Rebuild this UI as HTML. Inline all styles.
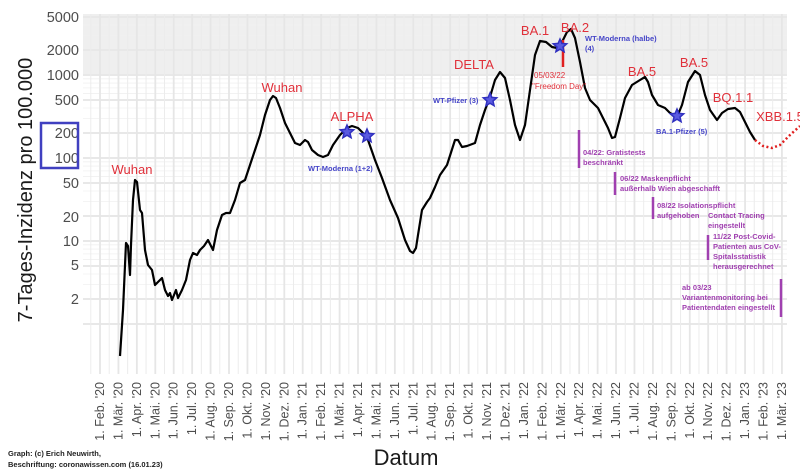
<!DOCTYPE html>
<html><head><meta charset="utf-8"><style>
html,body{margin:0;padding:0;background:#fff;}
svg{display:block;}
text{font-family:"Liberation Sans",sans-serif;}
</style></head><body>
<svg width="800" height="475" viewBox="0 0 800 475" xmlns="http://www.w3.org/2000/svg">
<rect x="83" y="14" width="704" height="62" fill="#efefef"/>
<g id="grid"></g>
<g font-size="14.5" fill="#4d4d4d" text-anchor="end">
<text x="79" y="22">5000</text><text x="79" y="55">2000</text><text x="79" y="80">1000</text>
<text x="79" y="105">500</text><text x="79" y="138">200</text><text x="79" y="163">100</text>
<text x="79" y="188">50</text><text x="79" y="222">20</text><text x="79" y="246">10</text>
<text x="79" y="270">5</text><text x="79" y="304">2</text>
</g>
<rect x="41" y="123" width="37" height="45" fill="none" stroke="#4040c0" stroke-width="2.5"/>
<text transform="translate(32,190) rotate(-90)" font-size="20" text-anchor="middle" fill="#1a1a1a">7-Tages-Inzidenz pro 100.000</text>
<g id="xl" font-size="12.5" fill="#4d4d4d" text-anchor="end"></g>
<text x="406" y="465" font-size="22" text-anchor="middle" fill="#1a1a1a">Datum</text>
<g font-size="7.5" font-weight="bold" fill="#222"><text x="8" y="456">Graph: (c) Erich Neuwirth,</text><text x="8" y="467">Beschriftung: coronawissen.com (16.01.23)</text></g>

<polyline fill="none" stroke="#000" stroke-width="2.2" stroke-linejoin="round" points="120,356 123,310 126,243 128,246 130,275 131,245 133,200 135,180 137,182 140,210 142,213 145,250 148,265 152,270 155,285 158,282 162,278 165,290 168,296 170,293 172,300 176,290 178,298 182,290 186,280 190,260 193,253 197,255 200,250 204,246 208,240 213,250 217,230 222,215 226,213 230,213 235,200 240,183 245,180 250,165 255,150 260,135 265,115 270,100 273,96 276,98 280,108 285,123 290,133 295,143 300,145 305,140 308,142 312,150 318,155 323,157 328,155 333,145 340,135 347,128 352,126 358,128 363,133 368,140 375,160 382,178 390,200 398,218 405,240 410,251 413,253 416,248 418,235 422,210 427,202 430,198 435,187 440,175 447,165 455,140 458,140 462,147 467,146 475,143 480,125 485,110 490,97 495,80 500,72 505,78 510,100 515,125 520,140 525,125 530,90 535,55 540,41 546,42 552,47 557,48 562,42 567,32 571,29 575,38 580,62 585,88 590,100 598,108 603,118 608,128 612,138 615,137 620,118 625,98 632,85 640,80 645,77 648,82 652,95 658,105 665,108 670,113 677,117 682,105 688,82 695,71 700,75 705,95 710,110 717,120 722,113 728,109 735,108 740,112 745,122 750,132 755,140"/>
<polyline fill="none" stroke="#e02020" stroke-width="2.5" stroke-dasharray="2,2.5" points="755,140 763,146 772,148 780,145 790,135 800,126"/>
<line x1="563" y1="40" x2="563" y2="67" stroke="#e02020" stroke-width="2.5"/>
<g id="stars" fill="#5a5ae0" stroke="#3030c0" stroke-width="1.5"></g>

<g font-size="13" fill="#e0303a" text-anchor="middle">
<text x="132" y="174">Wuhan</text><text x="282" y="92">Wuhan</text><text x="352" y="121">ALPHA</text>
<text x="474" y="69">DELTA</text><text x="535" y="35">BA.1</text><text x="575" y="32">BA.2</text>
<text x="642" y="76">BA.5</text><text x="694" y="67">BA.5</text><text x="733" y="102">BQ.1.1</text><text x="780" y="121">XBB.1.5</text>
</g>
<g font-size="8" fill="#e0303a"><text x="534" y="78">05/03/22</text><text x="532" y="89">"Freedom Day"</text></g>
<g font-size="7.5" font-weight="bold" fill="#4545c8">
<text x="308" y="171">WT-Moderna (1+2)</text><text x="433" y="103">WT-Pfizer (3)</text>
<text x="585" y="41">WT-Moderna (halbe)</text><text x="585" y="51">(4)</text><text x="656" y="134">BA.1-Pfizer (5)</text>
</g>
<g stroke="#a040b0" stroke-width="2.5">
<line x1="579" y1="130" x2="579" y2="168"/><line x1="615" y1="172" x2="615" y2="195"/>
<line x1="653" y1="197" x2="653" y2="219"/><line x1="708" y1="235" x2="708" y2="260"/>
<line x1="781" y1="279" x2="781" y2="317"/>
</g>
<g font-size="7.5" font-weight="bold" fill="#a040b0">
<text x="583" y="155">04/22: Gratistests</text><text x="583" y="165">beschränkt</text>
<text x="620" y="181">06/22 Maskenpflicht</text><text x="620" y="191">außerhalb Wien abgeschafft</text>
<text x="657" y="208">08/22 Isolationspflicht</text><text x="657" y="218">aufgehoben</text>
<text x="708" y="218">Contact Tracing</text><text x="708" y="228">eingestellt</text>
<text x="713" y="239">11/22 Post-Covid-</text><text x="713" y="249">Patienten aus CoV-</text><text x="713" y="259">Spitalsstatistik</text><text x="713" y="269">herausgerechnet</text>
<text x="682" y="290">ab 03/23</text><text x="682" y="300">Variantenmonitoring bei</text><text x="682" y="310">Patientendaten eingestellt</text>
</g>
<script>
var ns="http://www.w3.org/2000/svg",g=document.getElementById('grid');
function ln(x1,y1,x2,y2,w,c){var l=document.createElementNS(ns,'line');l.setAttribute('x1',x1);l.setAttribute('y1',y1);l.setAttribute('x2',x2);l.setAttribute('y2',y2);l.setAttribute('stroke',c);l.setAttribute('stroke-width',w);g.appendChild(l);}
function Y(v){return 75-83*(Math.log10(v)-3);}
for(var d=0;d<4;d++)for(var m=1;m<10;m++){var v=m*Math.pow(10,d);if(v>5000)break;var y=Y(v);var maj=(m==1||m==2||m==5);ln(83,y,787,y,maj?2:0.8,maj?'#e8e8e8':'#f0f0f0');}
var x0=100,dx=18.43;
for(var i=-1;i<=74;i++){var x=x0+i*dx/2;if(x<83||x>787)continue;ln(x,14,x,374,i%2==0?1.8:1,i%2==0?'#e6e6e6':'#ececec');}
var mon=['Jan.','Feb.','Mär.','Apr.','Mai.','Jun.','Jul.','Aug.','Sep.','Okt.','Nov.','Dez.'];
var xl=document.getElementById('xl');
for(var i=0;i<=37;i++){var mi=(1+i)%12,yr=20+Math.floor((1+i)/12);var t=document.createElementNS(ns,'text');var x=x0+i*dx+4;t.setAttribute('transform','translate('+x+',382) rotate(-90)');t.textContent='1. '+mon[mi]+" '"+yr;xl.appendChild(t);}
var st=document.getElementById('stars');
[[347,132],[367,136],[490,100],[560,46],[677,116]].forEach(function(p){var pts=[];for(var k=0;k<10;k++){var r=k%2?3.2:7,a=-Math.PI/2+k*Math.PI/5;pts.push((p[0]+r*Math.cos(a)).toFixed(1)+','+(p[1]+r*Math.sin(a)).toFixed(1));}var pg=document.createElementNS(ns,'polygon');pg.setAttribute('points',pts.join(' '));st.appendChild(pg);});
</script>
</svg>
</body></html>
